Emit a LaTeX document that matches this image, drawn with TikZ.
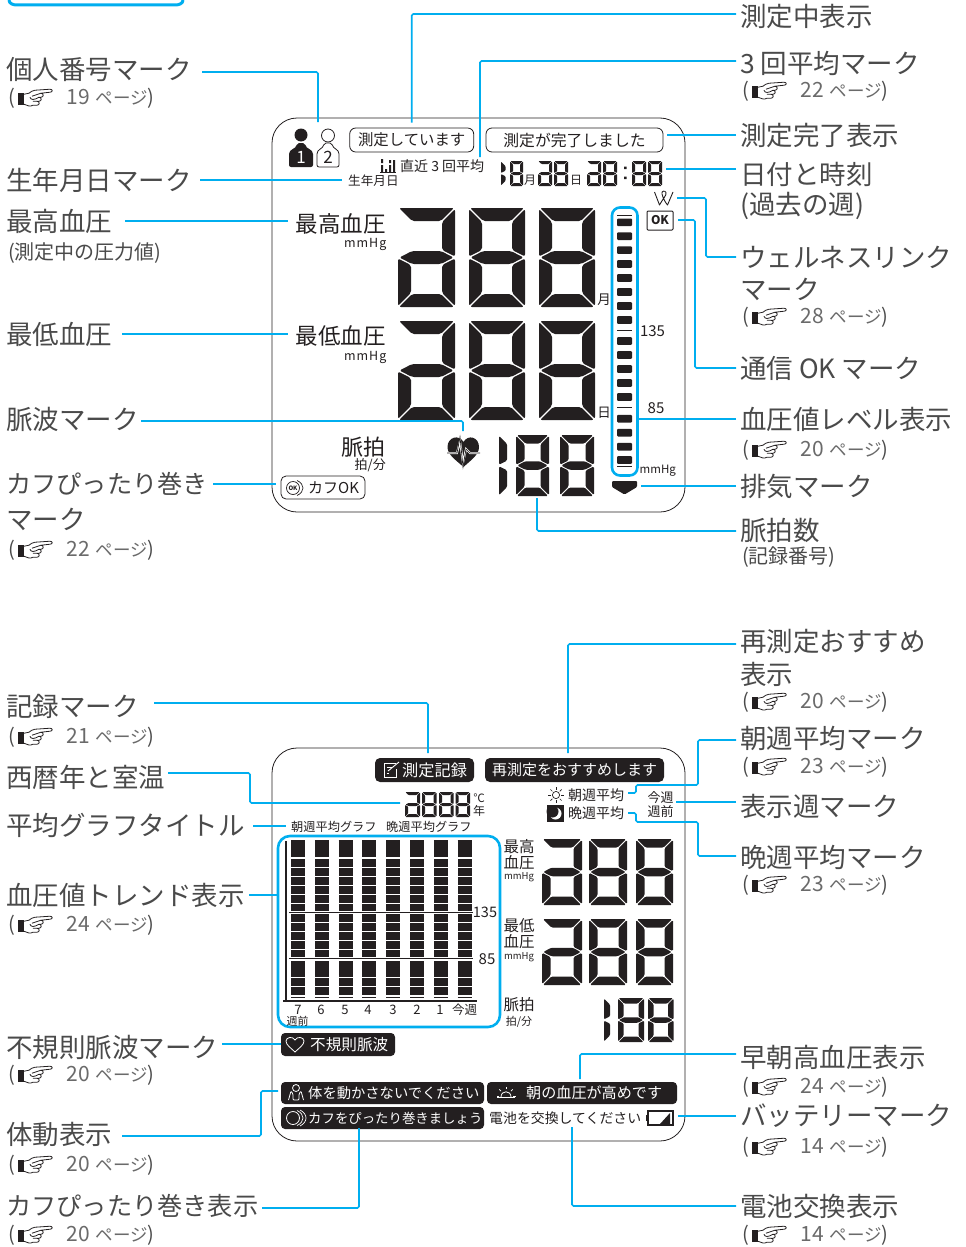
\documentclass[tikz,border=0pt]{standalone}
\usepackage{fontspec}
\setmainfont{Noto Sans CJK JP}
\usepackage{tikz}
\definecolor{ink}{HTML}{231F20}
\definecolor{softink}{HTML}{4A4A4A}
\definecolor{pageink}{HTML}{6A6A6A}
\definecolor{leaderblue}{HTML}{00AEEF}
\newcommand{\fs}[1]{\fontsize{#1}{#1}\selectfont}
% pointing hand of the page references
\newcommand{\handmark}{\begin{tikzpicture}[x=1pt,y=-1pt,baseline={(0,16.5)}]
	\fill[ink] (0,5) rectangle (6,17);
	\draw[ink,line width=.8pt,line join=round] (6,6) -- (11,5) .. controls (13,4) and (14,2) .. (17,2) -- (32,1) .. controls (35,1) and (35,4) .. (32,4) -- (23,5) .. controls (26,5) and (26,9) .. (23,9) -- (21,9) .. controls (24,9) and (24,13) .. (21,13) -- (19,13) .. controls (22,13) and (22,17) .. (19,17) -- (15,17) .. controls (12,19) and (9,17) .. (6,16);
	\draw[ink,line width=.8pt] (14,8) -- (23,5) (12,9) .. controls (13,12) and (16,12) .. (21,9) (15,13) -- (19,13);
\end{tikzpicture}}
\newcommand{\pg}[1]{(\hspace{3pt}\smash{\handmark}\hspace{13pt}{\color{pageink}\fs{21}#1\hspace{6pt}\fs{17.5}ページ})}
% segments of the lcd digits
\newcommand{\sega}{\fill[seg] (\G,0) -- ({\W-\G},0) -- ({\W-\T-\G},\T) -- ({\T+\G},\T) -- cycle;}
\newcommand{\segd}{\fill[seg] (\G,\H) -- ({\W-\G},\H) -- ({\W-\T-\G},{\H-\T}) -- ({\T+\G},{\H-\T}) -- cycle;}
\newcommand{\segf}{\fill[seg] (0,\G) -- (\T,{\T+\G}) -- (\T,{\H/2-\T/2-\G}) -- (0,{\H/2-\G}) -- cycle;}
\newcommand{\sege}{\fill[seg] (0,{\H-\G}) -- (\T,{\H-\T-\G}) -- (\T,{\H/2+\T/2+\G}) -- (0,{\H/2+\G}) -- cycle;}
\newcommand{\segb}{\fill[seg] (\W,\G) -- ({\W-\T},{\T+\G}) -- ({\W-\T},{\H/2-\T/2-\G}) -- (\W,{\H/2-\G}) -- cycle;}
\newcommand{\segc}{\fill[seg] (\W,{\H-\G}) -- ({\W-\T},{\H-\T-\G}) -- ({\W-\T},{\H/2+\T/2+\G}) -- (\W,{\H/2+\G}) -- cycle;}
\newcommand{\segg}{\fill[seg] ({1.4*\G},{\H/2}) -- ({\T+\G},{\H/2-\T/2}) -- ({\W-\T-\G},{\H/2-\T/2}) -- ({\W-1.4*\G},{\H/2}) -- ({\W-\T-\G},{\H/2+\T/2}) -- ({\T+\G},{\H/2+\T/2}) -- cycle;}
% x, y, width, height, thickness, segments
\newcommand{\lcd}[6]{\begin{scope}[shift={(#1,#2)}]
	\def\W{#3}\def\H{#4}\def\T{#5}\pgfmathsetmacro{\G}{0.3+0.06*#5}
	\pgfmathsetmacro{\R}{0.2+0.14*#5}
	\tikzset{seg/.style={ink,rounded corners=\R pt}}
	\edef\seglist{#6}
	\foreach \s in \seglist {\csname seg\s\endcsname}
\end{scope}}
\newcommand{\eight}{a,b,c,d,e,f,g}
\newcommand{\two}{a,b,c,d,e,g}
\begin{document}
\begin{tikzpicture}[x=1pt,y=-1pt,
	lbl/.style={anchor=west,inner sep=0pt,text=softink,font=\fs{26.5}},
	sublbl/.style={anchor=west,inner sep=0pt,text=softink,font=\fs{20},yshift=-1.5pt},
	lcdtxt/.style={inner sep=0pt,text=ink},
	leader/.style={leaderblue,line width=1.6pt,rounded corners=1.5pt},
	panel/.style={ink,line width=.8pt,rounded corners=25pt},
	bluebox/.style={leaderblue,line width=2.6pt},
	msgw/.style={draw=ink,line width=.8pt,rounded corners=6pt,inner sep=0pt,text=ink},
	msgb/.style={fill=ink,rounded corners=5pt,inner sep=0pt,text=white},
]
\useasboundingbox (0,0) rectangle (966,1247);

\draw[leaderblue,line width=3pt] (9,0) to[out=-90,in=180] (17,5) -- (175,5) to[out=0,in=-90] (183,0);

% ---- upper panel
\draw[panel] (272,118) rectangle (685,512);

% personal marks
\fill[ink] (301,135) circle (6.5);
\fill[ink,rounded corners=2pt] (289,167) -- (289,156) .. controls (289,149) and (296,149) .. (297,143) -- (305,143) .. controls (306,149) and (313,149) .. (313,156) -- (313,167) -- cycle;
\node[inner sep=0pt,text=white,font=\fs{17}] (markone) at (301,157) {1};
\draw[ink,line width=.8pt,fill=white,rounded corners=2pt] (317,167) -- (317,156) .. controls (317,149) and (323,149) .. (324,143) -- (332,143) .. controls (333,149) and (339,149) .. (339,156) -- (339,167) -- cycle;
\draw[ink,line width=.8pt,fill=white] (328,135.5) circle (6.5);
\node[inner sep=0pt,text=ink,font=\fs{17}] (marktwo) at (328,157) {2};

\node[msgw,minimum width=124pt,minimum height=24pt,font=\fs{15.4}] (sokutei) at (411.7,140) {測定しています};
\node[msgw,minimum width=177pt,minimum height=24pt,font=\fs{15.8}] (kanryo) at (574.5,140) {測定が完了しました};

% 3 times average
\fill[ink] (381,165) rectangle (383,172) (385,169) rectangle (387,172) (389,165) rectangle (391,172) (393,160) rectangle (395,172);
\fill[ink] (381,159) rectangle (383,163) (389,160) rectangle (391,163);
\draw[ink,line width=.8pt] (380,172.5) -- (396,172.5);
\node[lcdtxt,anchor=west,font=\fs{14}] (heikin) at (400,166) {直近 3 回平均};
\node[lcdtxt,anchor=west,font=\fs{12.6}] (seinen) at (348,181) {生年月日};

% date and time
\lcd{501}{161}{5}{25}{4.5}{e,f}
\lcd{510}{161}{13}{25}{3}{\eight}
\node[lcdtxt,font=\fs{12}] (tuki) at (530,180) {月};
\lcd{538}{161}{14}{25}{3}{\two}
\lcd{554}{161}{14}{25}{3}{\eight}
\node[lcdtxt,font=\fs{12}] (hi) at (576,180) {日};
\lcd{587}{161}{14}{25}{3}{\two}
\lcd{603}{161}{14}{25}{3}{\eight}
\fill[ink] (624,166.5) rectangle (626.5,169) (624,176.5) rectangle (626.5,179);
\lcd{632}{161}{14}{25}{3}{\eight}
\lcd{648}{161}{14}{25}{3}{\eight}

% wellness and ok
\draw[ink,line width=.9pt,line join=round] (654.5,192) -- (659.5,205) .. controls (662,200) and (667,195) .. (666,192.5) .. controls (665,190) and (661,191) .. (662,194) .. controls (663,198) and (665,202) .. (667.5,205) -- (673,192);
\node[draw=ink,line width=1pt,rounded corners=1pt,inner sep=0pt,minimum width=26pt,minimum height=19pt,text=ink,font=\fs{12}\bfseries] (okbox) at (660,220.5) {OK};

\node[lcdtxt,anchor=east,font=\fs{22.5}] (saiko) at (386,224) {最高血圧};
\node[lcdtxt,anchor=east,font=\fs{12.5}\addfontfeature{LetterSpace=8}] (saikomm) at (386.5,244) {mmHg};
\node[lcdtxt,anchor=east,font=\fs{22.5}] (saitei) at (386,336) {最低血圧};
\node[lcdtxt,anchor=east,font=\fs{12.5}\addfontfeature{LetterSpace=8}] (saiteimm) at (386.5,357) {mmHg};

% big digits
\foreach \ytop in {208,321} {
	\lcd{398}{\ytop}{57}{99}{13}{\two}
	\lcd{469}{\ytop}{56}{99}{13}{\eight}
	\lcd{539}{\ytop}{56}{99}{13}{\eight}
}
\node[lcdtxt,font=\fs{13.5}] (bigtuki) at (604,300) {月};
\node[lcdtxt,font=\fs{13.5}] (bighi) at (604,413) {日};

% level bar
\fill[white] (608.5,206) rectangle (611,476);
\draw[bluebox,rounded corners=8pt] (612,207.5) rectangle (637.5,475.5);
\foreach \ybar in {222.3,236.2,250.1,264,278,292,306,320,341,355,369,383,397,418.7,432.7,446.7,460} {
	\fill[ink,rounded corners=1pt] (617,\ybar-3.8) rectangle (632,\ybar+3.8);
}
\foreach \yline in {215,330.7,407.7,466.7} {
	\draw[ink,line width=.8pt] (617,\yline) -- (632,\yline);
}
\node[lcdtxt,font=\fs{15}] (otoh) at (652.5,331) {135};
\node[lcdtxt,font=\fs{15}] (otol) at (656,408.5) {85};
\node[lcdtxt,anchor=west,font=\fs{11.5}] (barmm) at (639.5,471) {mmHg};
\fill[ink,rounded corners=1pt] (612,481) -- (637,481) -- (637,487) -- (624.5,494.5) -- (612,487) -- cycle;

% pulse
\node[lcdtxt,anchor=east,font=\fs{22}] (myaku) at (386,447) {脈拍};
\node[lcdtxt,anchor=east,font=\fs{13}] (hakubun) at (386,465) {拍/分};
\fill[ink] (463.5,467) .. controls (456,460) and (447.5,455) .. (447.5,447) .. controls (447.5,437) and (459,434) .. (463.5,442) .. controls (468,434) and (479,437) .. (479,447) .. controls (479,455) and (471,460) .. (463.5,467) -- cycle;
\draw[white,line width=2pt] (448,453) -- (457,453) -- (460,441) -- (463,463) -- (466,449) -- (470,453) -- (479,453);
\draw[ink,line width=.7pt] (447,453) -- (457,453) -- (460,437) -- (463,467) -- (466,449) -- (470,453) -- (480,453);

\lcd{499}{435}{8}{61}{8}{e,f}
\lcd{516}{435}{33}{61}{8.5}{\eight}
\lcd{560}{435}{34}{61}{8.5}{\eight}

% cuff ok
\node[draw=ink,line width=.8pt,rounded corners=5pt,inner sep=0pt,minimum width=84pt,minimum height=23pt] (cuffok) at (323,487.5) {};
\node[lcdtxt,anchor=west,font=\fs{15}] (cuffoktxt) at (308,488) {カフOK};
\draw[ink,line width=.7pt] (293,488) circle (6.5);
\draw[ink,line width=.7pt] (297,480.5) .. controls (305,484) and (305,492) .. (297,495.5);
\node[lcdtxt,font=\fs{6}\bfseries] (cuffokmark) at (293,488) {OK};

% upper left labels
\node[lbl] (kojin) at (6,70) {個人番号マーク};
\node[sublbl] (kojinp) at (8,97) {\pg{19}};
\node[lbl] (seinenl) at (6,180) {生年月日マーク};
\node[lbl] (saikol) at (6,221) {最高血圧};
\node[sublbl] (saikop) at (8,252) {(測定中の圧力値)};
\node[lbl] (saiteil) at (6,334) {最低血圧};
\node[lbl] (myakuha) at (6,419) {脈波マーク};
\node[lbl,font=\fs{25.2}] (cuffa) at (6,484) {カフぴったり巻き};
\node[lbl] (cuffb) at (6,519) {マーク};
\node[sublbl] (cuffp) at (8,549) {\pg{22}};
% upper right labels
\node[lbl] (chu) at (740,16) {測定中表示};
\node[lbl] (sankai) at (740,63) {3 回平均マーク};
\node[sublbl] (sankaip) at (742,90) {\pg{22}};
\node[lbl] (kanryol) at (740,135) {測定完了表示};
\node[lbl] (hizuke) at (740,174) {日付と時刻};
\node[lbl] (kako) at (740,206) {(過去の週)};
\node[lbl] (well) at (740,257) {ウェルネスリンク};
\node[lbl] (wellb) at (740,289) {マーク};
\node[sublbl] (wellp) at (742,316) {\pg{28}};
\node[lbl] (tushin) at (740,368) {通信 OK マーク};
\node[lbl] (level) at (740,419) {血圧値レベル表示};
\node[sublbl] (levelp) at (742,449) {\pg{20}};
\node[lbl] (haiki) at (740,487) {排気マーク};
\node[lbl] (myakusu) at (740,530) {脈拍数};
\node[sublbl] (kiroku) at (742,556) {(記録番号)};

% free ends of the upper connectors
\coordinate (kojinS) at (202,72);
\coordinate (kojinE) at (318,122);
\coordinate (seinenS) at (200,180);
\coordinate (seinenE) at (342,180);
\coordinate (saikoS) at (125,221);
\coordinate (saikoE) at (288,221);
\coordinate (saiteiS) at (122,334);
\coordinate (saiteiE) at (288,334);
\coordinate (hamaS) at (141,421);
\coordinate (hamaE) at (463,431);
\coordinate (cuffS) at (213,484);
\coordinate (cuffE) at (276,484);
\coordinate (chuS) at (736,14);
\coordinate (sankaiS) at (736,61);
\coordinate (sankaiE) at (480,157);
\coordinate (kanryoS) at (736,135);
\coordinate (kanryoE) at (667,135);
\coordinate (hizukeS) at (736,169);
\coordinate (hizukeE) at (666,169);
\coordinate (wellS) at (736,257);
\coordinate (wellM) at (706,198);
\coordinate (wellE) at (677,198);
\coordinate (tushinS) at (736,368);
\coordinate (tushinM) at (695,220);
\coordinate (tushinE) at (678,220);
\coordinate (levelS) at (736,419);
\coordinate (levelE) at (638,419);
\coordinate (haikiS) at (736,486);
\coordinate (haikiE) at (641,486);
\coordinate (kazuS) at (736,531);
\coordinate (kazuE) at (537,498);

\draw[leader] (kojinS) -| (kojinE);
\draw[leader] (seinenS) -- (seinenE);
\draw[leader] (saikoS) -- (saikoE);
\draw[leader] (saiteiS) -- (saiteiE);
\draw[leader] (hamaS) -| (hamaE);
\draw[leader] (cuffS) -- (cuffE);
\draw[leader,shorten >=5pt] (chuS) -| (sokutei.north);
\draw[leader] (sankaiS) -| (sankaiE);
\draw[leader] (kanryoS) -- (kanryoE);
\draw[leader] (hizukeS) -- (hizukeE);
\draw[leader] (wellS) -| (wellM) -- (wellE);
\draw[leader] (tushinS) -| (tushinM) -- (tushinE);
\draw[leader] (levelS) -- (levelE);
\draw[leader] (haikiS) -- (haikiE);
\draw[leader] (kazuS) -| (kazuE);

% ---- lower panel
\draw[panel] (272,748) rectangle (685,1141);

\node[msgb,minimum width=99pt,minimum height=24pt] (kirokubox) at (424.5,770) {};
\node[anchor=west,inner sep=0pt,text=white,font=\fs{16.2}] (kirokutxt) at (402,770) {測定記録};
\draw[white,line width=.8pt] (396,763) -- (384,763) -- (384,777) -- (396,777) -- (396,769);
\draw[white,line width=.9pt] (388,771) -- (399,762);
\draw[white,line width=.6pt] (386.5,767) -- (392,767) (386.5,773) -- (389,773);
\node[msgb,minimum width=179pt,minimum height=24pt,font=\fs{15}] (saisokutei) at (574.5,770) {再測定をおすすめします};

% year and temperature
\lcd{405}{792}{15}{25}{3}{\two}
\lcd{422}{792}{14.5}{25}{3}{\eight}
\lcd{439}{792}{14.5}{25}{3}{\eight}
\lcd{455.5}{792}{14.5}{25}{3}{\eight}
\node[lcdtxt,font=\fs{11.5}] (ondo) at (479,798) {℃};
\node[lcdtxt,font=\fs{12}] (nen) at (479,811) {年};

% sun and moon
\draw[ink,line width=.7pt] (556,795) circle (3.6);
\foreach \ang in {0,45,...,315} {
	\draw[ink,line width=.7pt] (556,795) ++(\ang:5.3) -- ++(\ang:2.6);
}
\node[lcdtxt,anchor=west,font=\fs{14}] (asa) at (568,795) {朝週平均};
\node[fill=ink,inner sep=0pt,minimum size=17pt] (moonbox) at (555.5,813.5) {};
\fill[white] (555.5,813.5) circle (6);
\fill[ink] (552.5,811.5) circle (6);
\node[lcdtxt,anchor=west,font=\fs{14}] (ban) at (568,813) {晩週平均};
\node[lcdtxt,font=\fs{13}] (konshu) at (660.5,798) {今週};
\node[lcdtxt,font=\fs{13}] (shuzen) at (660.5,811) {週前};

\node[lcdtxt,anchor=west,font=\fs{12.2}] (asagraph) at (291,827) {朝週平均グラフ};
\node[lcdtxt,anchor=west,font=\fs{12.2}] (bangraph) at (386,827) {晩週平均グラフ};

% trend graph
\draw[bluebox,rounded corners=12pt] (278,836) rectangle (500,1027);
\foreach \i in {0,...,7} {
	\pgfmathsetmacro{\cx}{291+23.8*\i}
	\foreach \ya/\yb in {841/857,858.5/866.5,867.5/875.5,876.5/884.5,885.5/893.5,894.5/902.5,903.5/910.5,914/922,923/931,932/940,941/949,950/957,961/977,978/986,987/995} {
		\fill[ink] (\cx,\ya) rectangle (\cx+14,\yb);
	}
	\draw[ink,line width=.4pt] (\cx,839.7) -- (\cx+14,839.7) (\cx,997.2) -- (\cx+14,997.2);
}
\draw[ink,line width=.9pt] (289,912) -- (473,912) (289,958.5) -- (473,958.5);
\draw[ink,line width=1.8pt] (286,841) -- (286,1001) (283,1001) -- (477,1001);
\node[lcdtxt,font=\fs{14.5}] (grapho) at (485,912.5) {135};
\node[lcdtxt,font=\fs{15}] (graphl) at (487,959) {85};
\foreach \lx/\lt in {298/7,321/6,345/5,368/4,393/3,417/2,440/1} {
	\node[lcdtxt,font=\fs{13}] (week\lt) at (\lx,1010) {\lt};
}
\node[lcdtxt,font=\fs{12.5}] (thisweek) at (464.5,1010) {今週};
\node[lcdtxt,font=\fs{11}] (shuzenb) at (297.5,1021) {週前};

% right values
\node[lcdtxt,font=\fs{15.5}] (rsaiko) at (519,847) {最高};
\node[lcdtxt,font=\fs{15.5}] (rketsua) at (519,863) {血圧};
\node[lcdtxt,font=\fs{9.5}] (rmma) at (519,877) {mmHg};
\node[lcdtxt,font=\fs{15.5}] (rsaitei) at (519,926) {最低};
\node[lcdtxt,font=\fs{15.5}] (rketsub) at (519,942) {血圧};
\node[lcdtxt,font=\fs{9.5}] (rmmb) at (519,957) {mmHg};
\node[lcdtxt,font=\fs{15.5}] (rmyaku) at (519,1005) {脈拍};
\node[lcdtxt,font=\fs{11}] (rhaku) at (519,1022) {拍/分};
\foreach \ytop in {839,919} {
	\lcd{542}{\ytop}{40}{66}{8.5}{\two}
	\lcd{589}{\ytop}{38}{66}{8.5}{\eight}
	\lcd{636}{\ytop}{37}{66}{8.5}{\eight}
}
\lcd{604}{998}{6}{44}{6}{e,f}
\lcd{618}{998}{26}{44}{5.5}{\eight}
\lcd{648}{998}{25.5}{44}{5.5}{\eight}

% messages
\node[msgb,minimum width=114pt,minimum height=23pt,rounded corners=4pt] (fukisoku) at (338,1044.5) {};
\node[anchor=west,inner sep=0pt,text=white,font=\fs{15.6}] (fukisokutxt) at (310,1044.5) {不規則脈波};
\draw[white,line width=.8pt] (295,1052) .. controls (291,1048) and (286,1045) .. (286,1041) .. controls (286,1037) and (293,1036) .. (295,1040) .. controls (297,1036) and (304,1037) .. (304,1041) .. controls (304,1045) and (299,1048) .. (295,1052) -- cycle;

\node[msgb,minimum width=203pt,minimum height=22pt,rounded corners=4pt] (taido) at (382.5,1093) {};
\node[anchor=west,inner sep=0pt,text=white,font=\fs{14.3}] (taidotxt) at (308,1093) {体を動かさないでください};
\draw[white,line width=.8pt] (296,1088) circle (3.5);
\draw[white,line width=.8pt,rounded corners=1pt] (288.5,1100) -- (291,1091) -- (293,1094) -- (293,1100) -- (299,1100) -- (299,1094) -- (301,1091) -- (303.5,1100);

\node[msgb,minimum width=190pt,minimum height=22pt,rounded corners=4pt] (soucho) at (582,1093) {};
\node[anchor=west,inner sep=0pt,text=white,font=\fs{15.1}] (souchotxt) at (526,1093) {朝の血圧が高めです};
\draw[white,line width=.9pt] (497,1097.5) -- (515,1097.5);
\draw[white,line width=.8pt] (501,1097) .. controls (501,1090) and (511,1090) .. (511,1097);
\foreach \ang in {180,225,270,315,360} {
	\draw[white,line width=.7pt] (506,1096) ++(\ang:7) -- ++(\ang:2.5);
}

\node[msgb,minimum width=203pt,minimum height=22pt,rounded corners=4pt] (cuffbox) at (382.5,1118) {};
\node[anchor=west,inner sep=0pt,text=white,font=\fs{13.4}] (cufftxt) at (308,1118) {カフをぴったり巻きましょう};
\draw[white,line width=.8pt] (293,1118) circle (6.5);
\draw[white,line width=.7pt] (297,1110.5) .. controls (305,1114) and (305,1122) .. (297,1125.5);
\draw[white,line width=.7pt] (300,1110) .. controls (308,1114) and (308,1122) .. (300,1126);

\node[lcdtxt,anchor=west,font=\fs{13.9}] (denchi) at (489,1118) {電池を交換してください};
\draw[ink,line width=1.2pt,fill=white] (648,1111) rectangle (673,1125);
\fill[ink] (645.5,1115) rectangle (648,1121);
\fill[ink] (660,1124) -- (670,1124) -- (670,1113) -- cycle;

% lower left labels
\node[lbl] (kirokul) at (6,706) {記録マーク};
\node[sublbl] (kirokup) at (8,736) {\pg{21}};
\node[lbl] (seireki) at (6,777) {西暦年と室温};
\node[lbl] (graphtitle) at (6,825) {平均グラフタイトル};
\node[lbl] (trend) at (6,895) {血圧値トレンド表示};
\node[sublbl] (trendp) at (8,924) {\pg{24}};
\node[lbl] (fukisokul) at (6,1047) {不規則脈波マーク};
\node[sublbl] (fukisokup) at (8,1074) {\pg{20}};
\node[lbl] (taidol) at (6,1134) {体動表示};
\node[sublbl] (taidop) at (8,1164) {\pg{20}};
\node[lbl,font=\fs{25.2}] (cuffl) at (6,1206) {カフぴったり巻き表示};
\node[sublbl] (cuffpb) at (8,1234) {\pg{20}};
% lower right labels
\node[lbl] (saisokua) at (740,641) {再測定おすすめ};
\node[lbl] (saisokub) at (740,674) {表示};
\node[sublbl] (saisokup) at (742,701) {\pg{20}};
\node[lbl] (asal) at (740,738) {朝週平均マーク};
\node[sublbl] (asap) at (742,766) {\pg{23}};
\node[lbl] (shul) at (740,806) {表示週マーク};
\node[lbl] (banl) at (740,857) {晩週平均マーク};
\node[sublbl] (banp) at (742,884) {\pg{23}};
\node[lbl] (souchol) at (740,1057) {早朝高血圧表示};
\node[sublbl] (souchop) at (742,1086) {\pg{24}};
\node[lbl] (batt) at (740,1116) {バッテリーマーク};
\node[sublbl] (battp) at (742,1146) {\pg{14}};
\node[lbl] (denchil) at (740,1206) {電池交換表示};
\node[sublbl] (denchip) at (742,1234) {\pg{14}};

% free ends of the lower connectors
\coordinate (kirokuS) at (154,703);
\coordinate (kirokuE) at (428,753);
\coordinate (seirekiS) at (168,773);
\coordinate (seirekiM) at (250,803);
\coordinate (seirekiE) at (400,803);
\coordinate (titleS) at (253,826);
\coordinate (titleE) at (286,826);
\coordinate (trendS) at (249,895);
\coordinate (trendE) at (277,895);
\coordinate (fukiS) at (222,1044);
\coordinate (fukiE) at (281,1044);
\coordinate (taidoS) at (122,1136);
\coordinate (taidoM) at (261,1091);
\coordinate (taidoE) at (278,1091);
\coordinate (cuffbS) at (262,1208);
\coordinate (cuffbE) at (359,1128);
\coordinate (saiS) at (736,644);
\coordinate (saiE) at (568,753);
\coordinate (asaS) at (736,740);
\coordinate (asaA) at (698,785);
\coordinate (asaB) at (636,793);
\coordinate (asaE) at (628,793);
\coordinate (shuS) at (736,802);
\coordinate (shuE) at (676,802);
\coordinate (banS) at (736,856);
\coordinate (banA) at (698,822);
\coordinate (banB) at (636,813);
\coordinate (banE) at (628,813);
\coordinate (souS) at (736,1054);
\coordinate (souE) at (580,1079);
\coordinate (battS) at (736,1116);
\coordinate (battE) at (678,1116);
\coordinate (denS) at (736,1206);
\coordinate (denE) at (572,1127);

\draw[leader] (kirokuS) -| (kirokuE);
\draw[leader] (seirekiS) -| (seirekiM) -- (seirekiE);
\draw[leader] (titleS) -- (titleE);
\draw[leader] (trendS) -- (trendE);
\draw[leader] (fukiS) -- (fukiE);
\draw[leader] (taidoS) -| (taidoM) -- (taidoE);
\draw[leader] (cuffbS) -| (cuffbE);
\draw[leader] (saiS) -| (saiE);
\draw[leader] (asaS) -| (asaA) -| (asaB) -- (asaE);
\draw[leader] (shuS) -- (shuE);
\draw[leader] (banS) -| (banA) -| (banB) -- (banE);
\draw[leader] (souS) -| (souE);
\draw[leader] (battS) -- (battE);
\draw[leader] (denS) -| (denE);
\end{tikzpicture}
\end{document}
